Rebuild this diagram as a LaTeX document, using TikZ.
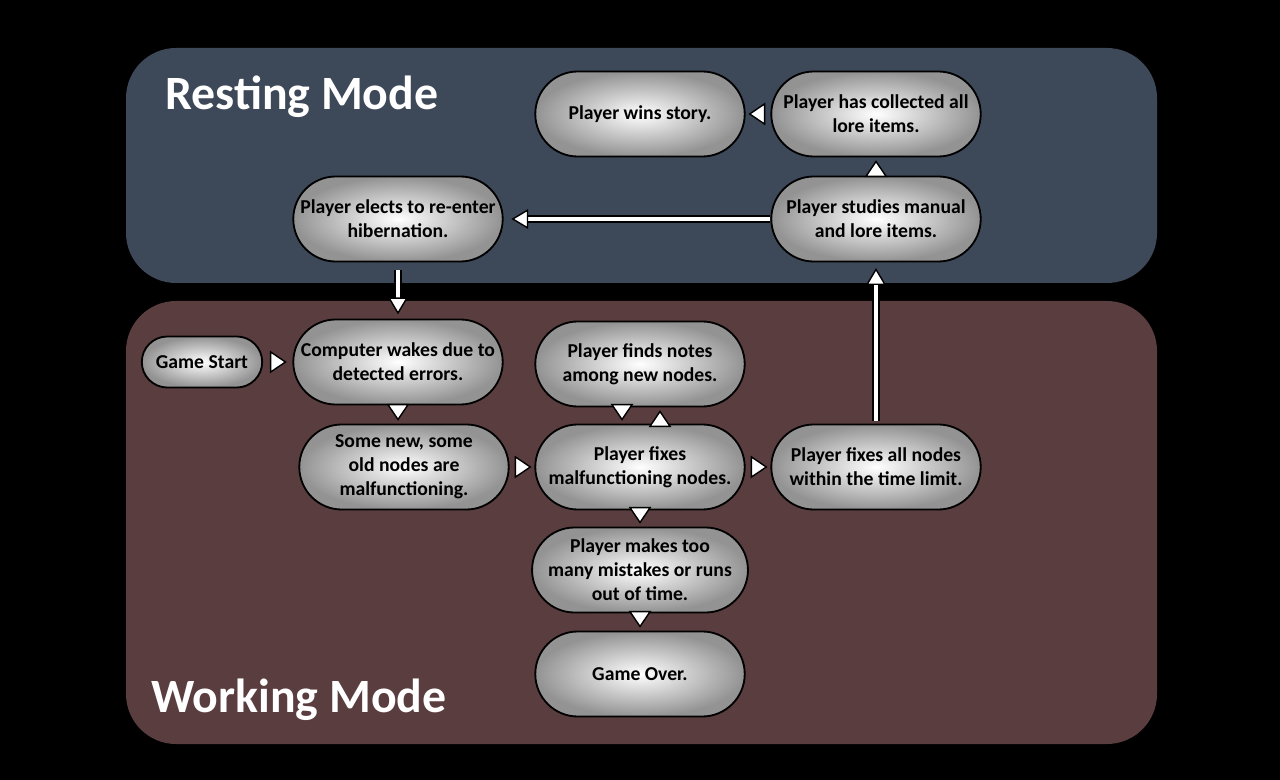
\documentclass[tikz,border=0pt]{standalone}
\usepackage{fontspec}
\setmainfont{Carlito}
\usetikzlibrary{shapes.misc,arrows.meta,decorations.markings}

\definecolor{restbg}{RGB}{61,72,88}
\definecolor{workbg}{RGB}{90,61,63}

\tikzset{
  state/.style={rounded rectangle, draw=black, line width=1.3pt,
    shading=radial, inner color=white, outer color=gray!85,
    minimum width=5.375cm, minimum height=2.125cm, inner sep=2pt,
    align=center, font=\fontsize{14}{17}\selectfont\bfseries},
  smallarrow/.style={line width=1pt, decoration={markings,
    mark=at position -#1 with {\arrow[black]{Triangle[length=12pt,width=16pt,fill=white]}}},
    postaction={decorate}},
  smallarrow/.default=2pt,
  bigarrow/.style={draw=black, line width=1pt, double=white, double distance=3.5pt,
    -{Triangle[length=12pt,width=14pt,fill=white]}},
  modetitle/.style={text=white, anchor=base west, inner sep=0pt, font=\fontsize{34}{34}\selectfont\bfseries}
}

\begin{document}
\begin{tikzpicture}[x=0.025cm, y=-0.025cm]
        % Sfondo e riquadri
        \useasboundingbox (0,0) rectangle (1280,780);
        \fill[black] (0,0) rectangle (1280,780);
        \fill[restbg, rounded corners=1.25cm] (126,48) rectangle (1157,283);
        \fill[workbg, rounded corners=1.25cm] (126,301) rectangle (1157,744);

        \node[modetitle] (resting) at (165,110) {Resting Mode};
        \node[modetitle] (working) at (151,712) {Working Mode};

        % Stati
        \node[state] (wins) at (640,114) {Player wins story.};
        \node[state] (collected) at (876,114) {Player has collected all\\lore items.};
        \node[state] (studies) at (876,219) {Player studies manual\\and lore items.};
        \node[state] (reenter) at (398,219) {Player elects to re-enter\\hibernation.};

        \node[state, minimum width=3.15cm, minimum height=1.275cm] (start) at (202,362) {Game Start};
        \node[state] (wakes) at (398,362) {Computer wakes due to\\detected errors.};
        \node[state] (somenew) at (404,467) {Some new, some\\old nodes are\\malfunctioning.};
        \node[state] (finds) at (640,364) {Player finds notes\\among new nodes.};
        \node[state] (fixes) at (640,467) {Player fixes\\malfunctioning nodes.};
        \node[state] (fixesall) at (876,467) {Player fixes all nodes\\within the time limit.};
        \node[state] (mistakes) at (640,570) {Player makes too\\many mistakes or runs\\out of time.};
        \node[state] (gameover) at (640,674) {Game Over.};

        % Frecce piccole
        \path[smallarrow=4pt] (start) -- (wakes);
        \path[smallarrow] (wakes.south) -- (wakes.south |- somenew.north);
        \path[smallarrow] (somenew) -- (fixes);
        \path[smallarrow] ([xshift=-0.45cm]finds.south) -- ([xshift=-0.45cm]fixes.north);
        \path[smallarrow] ([xshift=0.5cm]fixes.north) -- ([xshift=0.5cm]finds.south);
        \path[smallarrow] (fixes) -- (fixesall);
        \path[smallarrow] (fixes) -- (mistakes);
        \path[smallarrow] (mistakes) -- (gameover);
        \path[smallarrow] (collected) -- (wins);
        \path[smallarrow] (studies) -- (collected);

        % Frecce lunghe
        \draw[bigarrow, shorten >=5.5pt] (studies.west) -- (reenter.east);
        \draw[bigarrow, shorten <=5.5pt, shorten >=3pt] (reenter.south) -- (wakes.north);
        \draw[bigarrow, shorten <=2pt, shorten >=4pt] (fixesall.north) -- (studies.south);
    \end{tikzpicture}
\end{document}
